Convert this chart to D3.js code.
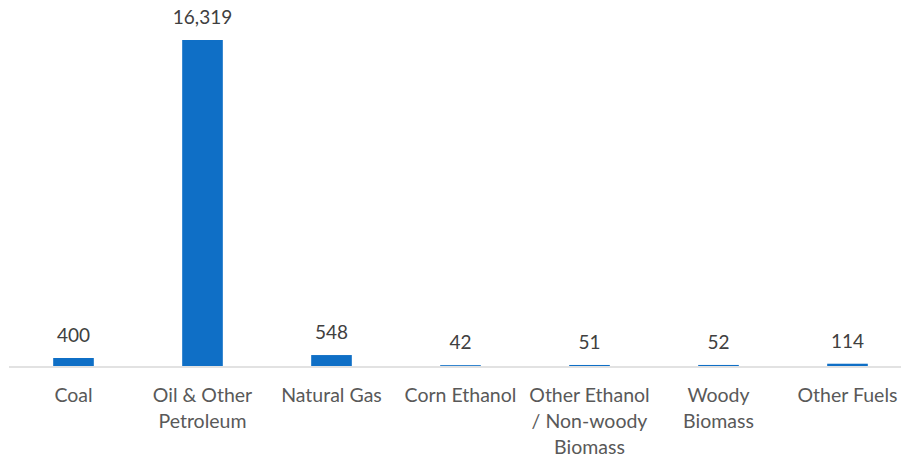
<!DOCTYPE html>
<html><head><meta charset="utf-8">
<script src="https://cdn.jsdelivr.net/npm/d3@7"></script>
<style>body{margin:0;background:#fff;}svg{display:block;}</style>
</head><body>
<svg id="chart" width="901" height="461"></svg>
<script>
const categories = ["Coal", "Oil & Other Petroleum", "Natural Gas", "Corn Ethanol", "Other Ethanol / Non-woody Biomass", "Woody Biomass", "Other Fuels"];
const categoryLines = [["Coal"], ["Oil & Other", "Petroleum"], ["Natural Gas"], ["Corn Ethanol"], ["Other Ethanol", "/ Non-woody", "Biomass"], ["Woody", "Biomass"], ["Other Fuels"]];
const values = [400, 16319, 548, 42, 51, 52, 114];

const svg = d3.select("#chart");
const font = "Lato, 'Open Sans', sans-serif";
const baseY = 366, topY = 40;
const x = d3.scaleBand().domain(categories).range([9, 912]).paddingInner(0.685).paddingOuter(0.3425);
const y = d3.scaleLinear().domain([0, 16319]).range([baseY, topY]);

svg.selectAll("rect.bar").data(values).join("rect")
  .attr("class", "bar")
  .attr("x", (d, i) => x(categories[i]))
  .attr("width", x.bandwidth())
  .attr("y", d => y(d))
  .attr("height", d => baseY - y(d))
  .attr("fill", "#0F6FC6");

svg.append("line").attr("x1", 9).attr("x2", 901).attr("y1", 367).attr("y2", 367)
  .attr("stroke", "#D9D9D9").attr("stroke-width", 1.3);

svg.selectAll("text.val").data(values).join("text")
  .attr("class", "val")
  .attr("x", (d, i) => x(categories[i]) + x.bandwidth() / 2)
  .attr("y", d => y(d) - 16)
  .attr("text-anchor", "middle")
  .attr("font-family", font).attr("font-size", 19).attr("fill", "#404040")
  .text(d => d3.format(",")(d));

const lab = svg.selectAll("text.cat").data(categoryLines).join("text")
  .attr("class", "cat")
  .attr("text-anchor", "middle")
  .attr("font-family", font).attr("font-size", 19.5).attr("fill", "#595959");
lab.each(function(lines, i) {
  const cx = x(categories[i]) + x.bandwidth() / 2;
  d3.select(this).selectAll("tspan").data(lines).join("tspan")
    .attr("x", cx).attr("y", (l, j) => 401.5 + j * 26).text(l => l);
});
</script>
</body></html>
